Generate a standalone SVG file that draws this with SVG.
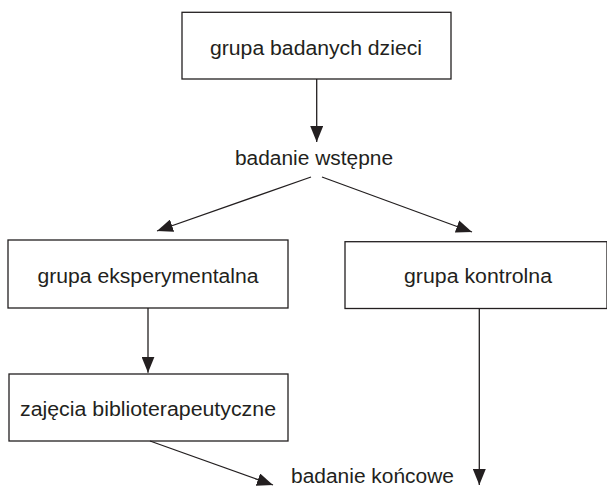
<svg xmlns="http://www.w3.org/2000/svg" width="607" height="486" viewBox="0 0 607 486">
<style>
.box{fill:#fff;stroke:#231f20;stroke-width:1.3}
.lbl{font-family:"Liberation Sans",Arial,sans-serif;font-size:20px;fill:#231f20;text-anchor:middle}
.con{stroke:#231f20;stroke-width:1.3;fill:none;marker-end:url(#ah)}
</style>
<defs>
<marker id="ah" markerUnits="userSpaceOnUse" markerWidth="17" markerHeight="13" refX="16" refY="6.5" orient="auto">
<path d="M0,0 L16,6.5 L0,13 Z" fill="#231f20"/>
</marker>
</defs>
<rect width="607" height="486" fill="#fff"/>
<g id="n1"><rect class="box" x="182" y="12.3" width="269" height="66.7"/><text class="lbl" x="316" y="55" textLength="212" lengthAdjust="spacingAndGlyphs">grupa badanych dzieci</text></g>
<g id="n2"><text class="lbl" x="314" y="165" textLength="158" lengthAdjust="spacingAndGlyphs">badanie wstępne</text></g>
<g id="n3"><rect class="box" x="8" y="240" width="280" height="68"/><text class="lbl" x="148" y="283" textLength="221" lengthAdjust="spacingAndGlyphs">grupa eksperymentalna</text></g>
<g id="n4"><rect class="box" x="345" y="241.7" width="262" height="66.8"/><text class="lbl" x="478" y="283" textLength="148" lengthAdjust="spacingAndGlyphs">grupa kontrolna</text></g>
<g id="n5"><rect class="box" x="9" y="374" width="279" height="67"/><text class="lbl" x="148" y="416" textLength="256" lengthAdjust="spacingAndGlyphs">zajęcia biblioterapeutyczne</text></g>
<g id="n6"><text class="lbl" x="372.5" y="483" textLength="163" lengthAdjust="spacingAndGlyphs">badanie końcowe</text></g>
<g id="connectors">
<line class="con" x1="316.7" y1="79" x2="316.7" y2="142"/>
<line class="con" x1="311" y1="177" x2="157" y2="231"/>
<line class="con" x1="322" y1="177" x2="472" y2="232"/>
<line class="con" x1="148" y1="308" x2="148" y2="372.7"/>
<line class="con" x1="150" y1="441" x2="273" y2="485"/>
<line class="con" x1="479.3" y1="308.5" x2="479.3" y2="485"/>
</g>
</svg>
